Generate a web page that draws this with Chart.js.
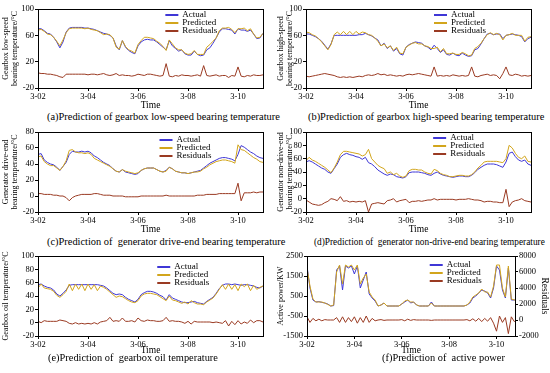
<!DOCTYPE html>
<html>
<head>
<meta charset="utf-8">
<script src="https://cdn.jsdelivr.net/npm/chart.js@4.4.1/dist/chart.umd.min.js"></script>
<style>
  body { margin: 0; background: #fff; }
  #wrap { position: relative; width: 550px; height: 373px; overflow: hidden; font-family: 'Liberation Serif', 'Times New Roman', serif; }
  canvas { position: absolute; }
  .cap { position: absolute; font-size: 10.4px; line-height: 12px; white-space: nowrap; color: #000; }
</style>
</head>
<body>
<div id="wrap">
  <canvas id="ca" width="275" height="110" style="left:0;top:0"></canvas>
  <canvas id="cb" width="275" height="110" style="left:275px;top:0"></canvas>
  <canvas id="cc" width="275" height="110" style="left:0;top:124px"></canvas>
  <canvas id="cd" width="275" height="110" style="left:275px;top:124px"></canvas>
  <canvas id="ce" width="275" height="107" style="left:0;top:248px"></canvas>
  <canvas id="cf" width="275" height="107" style="left:275px;top:248px"></canvas>
  <div class="cap" style="left:47px;top:111px">(a)Prediction of gearbox low-speed bearing temperature</div>
  <div class="cap" style="left:308px;top:111px">(b)Prediction of gearbox high-speed bearing temperature</div>
  <div class="cap" style="left:47px;top:236px">(c)Prediction of &nbsp;generator drive-end bearing temperature</div>
  <div class="cap" style="left:314px;top:236px;font-size:9.3px">(d)Prediction of &nbsp;generator non-drive-end bearing temperature</div>
  <div class="cap" style="left:48px;top:352px">(e)Prediction of &nbsp;gearbox oil temperature</div>
  <div class="cap" style="left:382px;top:352px">(f)Prediction of &nbsp;active power</div>
</div>
<script>
// time in days of March (3-02 ... 3-11), every 3 hours
const TIME = [
  2, 2.125, 2.25, 2.375, 2.5, 2.625, 2.75, 2.875,
  3, 3.125, 3.25, 3.375, 3.5, 3.625, 3.75, 3.875,
  4, 4.125, 4.25, 4.375, 4.5, 4.625, 4.75, 4.875,
  5, 5.125, 5.25, 5.375, 5.5, 5.625, 5.75, 5.875,
  6, 6.125, 6.25, 6.375, 6.5, 6.625, 6.75, 6.875,
  7, 7.125, 7.25, 7.375, 7.5, 7.625, 7.75, 7.875,
  8, 8.125, 8.25, 8.375, 8.5, 8.625, 8.75, 8.875,
  9, 9.125, 9.25, 9.375, 9.5, 9.625, 9.75, 9.875,
  10, 10.125, 10.25, 10.375, 10.5, 10.625, 10.75, 10.875,
  11
];
const X_TICKS = [2, 4, 6, 8, 10];

// (a) gearbox low-speed bearing temperature
const ACTUAL_A = [70, 70, 67, 63, 62, 57, 50, 41, 50, 65, 71, 72, 72, 72, 72, 71,
  71, 70, 69, 67, 65, 63, 62, 60, 56, 44, 38, 52, 42, 37, 34, 32,
  44, 50, 53, 54, 53, 53, 50, 46, 42, 38, 52, 44, 40, 36, 38, 32,
  30, 30, 36, 31, 29, 30, 38, 41, 48, 56, 65, 70, 70, 69, 68, 62,
  70, 68, 68, 66, 68, 62, 55, 56, 63];
const PRED_A = [68, 69, 66, 62, 61, 57, 51, 44, 53, 64, 70, 71, 71, 71, 71, 70,
  71, 69, 68, 67, 64, 61, 62, 61, 56, 42, 39, 52, 43, 38, 36, 33,
  46, 52, 57, 57, 56, 55, 51, 48, 43, 37, 53, 47, 41, 38, 38, 33,
  31, 32, 37, 31, 31, 31, 42, 46, 51, 56, 67, 71, 71, 72, 69, 64,
  70, 70, 71, 67, 70, 62, 56, 57, 63];
const RES_A = [3, 2, 2, 1, 1, 0, -1, -3, -4, 1, 1, 1, 1, 1, 1, 1,
  0, 1, 1, 0, 1, 2, 0, -1, 0, 2, -1, 0, -1, -1, -2, -1,
  1, 0, -1, 1, 1, 0, -1, -2, -1, 17, -2, -3, -1, -2, 0, -1,
  -1, -2, -1, 0, -2, 14, -1, -2, -1, 0, -2, -1, -1, -4, -1, -2,
  12, -2, -3, -1, -2, 0, -1, -1, 0];

// (b) gearbox high-speed bearing temperature
const ACTUAL_B = [62, 62, 60, 58, 55, 51, 45, 39, 47, 60, 60, 60, 60, 60, 60, 60,
  60, 61, 61, 63, 61, 59, 56, 53, 44, 48, 40, 44, 36, 40, 32, 30,
  42, 46, 48, 50, 49, 48, 44, 42, 38, 45, 40, 34, 38, 31, 30, 33,
  30, 29, 33, 30, 28, 29, 38, 40, 47, 55, 62, 63, 61, 62, 62, 55,
  60, 61, 62, 61, 60, 58, 50, 55, 57];
const PRED_B = [65, 64, 61, 59, 55, 50, 44, 38, 46, 61, 65, 61, 66, 61, 66, 61,
  66, 62, 65, 64, 61, 60, 56, 51, 44, 47, 41, 44, 37, 42, 33, 32,
  42, 45, 48, 49, 47, 47, 44, 43, 40, 40, 42, 35, 40, 32, 32, 33,
  31, 31, 34, 32, 29, 30, 40, 43, 48, 55, 61, 64, 61, 63, 61, 53,
  60, 61, 63, 60, 60, 60, 51, 57, 58];
const RES_B = [-2, -3, -2, -1, 0, 1, 2, 1, 0, -1, -3, -4, -3, -4, -3, -4,
  -3, -2, -3, -1, 0, -1, 0, 2, 0, 1, -1, 0, -1, -2, -1, -2,
  0, 1, 0, 1, 2, 1, 0, -1, -2, 12, -2, -1, -2, -1, -2, 0,
  -1, -2, -1, -2, -1, 12, -2, -3, -1, 0, 1, -1, 0, -1, -6, 2,
  12, 0, -1, 1, 0, -2, -1, -2, -1];

// (c) generator drive-end bearing temperature
const ACTUAL_C = [52, 53, 45, 42, 40, 39, 36, 32, 37, 42, 52, 56, 55, 55, 56, 55,
  56, 54, 50, 48, 45, 42, 40, 38, 34, 31, 30, 33, 30, 29, 28, 27,
  28, 32, 34, 35, 35, 35, 33, 31, 30, 32, 36, 34, 31, 30, 29, 29,
  28, 29, 30, 31, 32, 35, 38, 41, 43, 45, 47, 48, 48, 47, 46, 44,
  52, 63, 61, 58, 55, 53, 50, 48, 47];
const PRED_C = [49, 50, 43, 40, 38, 38, 35, 32, 37, 44, 57, 58, 55, 54, 54, 53,
  54, 52, 47, 45, 43, 41, 39, 37, 34, 31, 30, 33, 31, 30, 29, 28,
  29, 32, 34, 35, 35, 35, 33, 31, 30, 31, 36, 34, 31, 30, 29, 29,
  28, 29, 30, 30, 31, 34, 36, 39, 41, 43, 44, 45, 45, 44, 43, 41,
  64, 58, 57, 54, 51, 48, 46, 43, 42];
const RES_C = [3, 3, 2, 2, 2, 1, 1, 0, 0, -2, -6, -2, 0, 1, 2, 2,
  2, 2, 3, 3, 2, 1, 1, 1, 0, 0, 0, 0, -1, -1, -1, -1,
  -1, 0, 0, 0, 0, 0, 0, 0, 0, 1, 0, 0, 0, 0, 0, 0,
  0, 0, 0, 1, 1, 1, 2, 2, 2, 2, 3, 3, 3, 3, 3, 3,
  16, -6, 4, 4, 4, 5, 4, 5, 5];

// (d) generator non-drive-end bearing temperature
const ACTUAL_D = [55, 57, 55, 52, 49, 46, 44, 40, 38, 45, 52, 62, 66, 68, 66, 65,
  63, 62, 59, 62, 54, 52, 48, 43, 40, 37, 35, 37, 36, 33, 32, 31,
  33, 39, 40, 40, 40, 39, 38, 36, 35, 38, 40, 37, 35, 34, 33, 32,
  33, 34, 34, 33, 33, 35, 39, 44, 47, 50, 52, 52, 52, 51, 49, 47,
  55, 68, 70, 63, 58, 56, 58, 52, 50];
const PRED_D = [57, 62, 58, 56, 53, 50, 47, 43, 39, 46, 55, 66, 71, 71, 70, 69,
  68, 67, 64, 66, 74, 60, 55, 50, 47, 45, 38, 40, 36, 38, 34, 32,
  34, 42, 44, 44, 43, 43, 40, 38, 37, 44, 42, 38, 36, 35, 33, 33,
  34, 35, 35, 34, 34, 36, 40, 46, 50, 55, 56, 56, 56, 56, 55, 54,
  60, 80, 76, 68, 62, 60, 64, 56, 55];
const RES_D = [-2, -5, -8, -9, -10, -9, -6, -4, 0, -1, -3, 3, -4, -3, -5, -4,
  -5, -4, -5, -3, -20, -8, -7, -6, -7, -8, -3, -2, 0, -5, -3, -2,
  -1, -6, -4, -4, -3, -4, -3, -2, -2, 0, -2, -1, -1, -1, -1, -1,
  -2, -1, -1, -1, 0, -1, -2, -2, -3, -5, -4, -4, -5, -5, -6, -6,
  14, -12, -5, -3, -2, 0, -3, -4, -5];

// (e) gearbox oil temperature
const ACTUAL_E = [57, 58, 55, 53, 52, 49, 43, 40, 44, 49, 56, 57, 57, 57, 57, 57,
  57, 57, 57, 57, 56, 55, 52, 48, 44, 42, 43, 42, 38, 35, 33, 31,
  35, 42, 45, 47, 47, 46, 44, 41, 39, 34, 42, 37, 35, 33, 31, 30,
  30, 31, 32, 30, 29, 28, 32, 35, 38, 44, 51, 56, 58, 58, 57, 58,
  57, 56, 57, 57, 56, 55, 53, 52, 55];
const PRED_E = [52, 58, 52, 51, 50, 47, 41, 38, 42, 47, 58, 48, 58, 50, 58, 48,
  58, 50, 57, 48, 55, 53, 50, 46, 42, 38, 40, 39, 36, 33, 31, 30,
  33, 40, 43, 44, 44, 43, 42, 39, 36, 33, 40, 34, 33, 31, 29, 31,
  28, 33, 30, 28, 28, 27, 31, 34, 37, 43, 50, 57, 50, 58, 50, 57,
  48, 58, 54, 58, 48, 56, 50, 53, 55];
const RES_E = [2, 0, 3, 2, 2, 2, 2, 4, 3, 2, -1, -2, 0, -2, -1, -2,
  -1, -2, 0, -2, 1, 2, 3, 8, 2, 3, 2, 7, 2, 2, 3, 1,
  7, 3, 2, 4, 3, 3, 2, 2, 3, 8, 2, 3, 2, 2, 1, -1,
  2, -2, 2, 1, 1, 1, 1, 1, 0, 1, 0, -1, 3, -5, 2, -3,
  3, -2, 1, -1, 4, 0, 3, 3, 1];

// (f) active power (KW), residuals on the right axis
const ACTUAL_F = [2000, 900, 300, 200, 220, 180, 150, 100, 0, 20, 1800, 2000, 800, 2000, 1900, 2000,
  1600, 2000, 900, 1300, 1700, 600, 400, 250, 0, 50, 150, 0, 0, 0, 0, 0,
  100, 200, 300, 150, 200, 50, 0, 0, 0, 0, 200, 0, 0, 0, 0, 0,
  0, 0, 0, 0, 0, 0, 50, 150, 400, 500, 650, 800, 750, 650, 400, 900,
  2000, 1800, 800, 400, 1900, 300, 300, 300, 300];
const PRED_F = [1900, 1000, 350, 200, 200, 200, 150, 80, 0, 50, 1700, 2050, 1100, 2050, 1950, 2050,
  1800, 2050, 1100, 1400, 1600, 700, 450, 300, 0, 50, 150, 0, 0, 0, 0, 0,
  100, 250, 300, 200, 200, 50, 0, 0, 0, 0, 150, 0, 0, 0, 0, 0,
  0, 0, 0, 0, 0, 0, 50, 200, 450, 550, 650, 850, 700, 700, 450, 1000,
  2050, 2050, 900, 450, 2000, 350, 300, 350, 300];
const RES_F = [400, -300, 200, -100, 100, -100, 50, 0, 0, 0, 300, -300, 400, -300, 300, -200,
  400, -400, 300, -300, 500, -300, 200, -100, 0, 50, -50, 0, 0, 0, 0, 0,
  50, -100, 100, -50, 50, 0, 0, 0, 0, 0, -50, 0, 0, 0, 0, 0,
  0, 0, 0, 0, 0, 0, 50, -100, 150, -150, 200, -200, 200, -150, 300, -400,
  -1400, 500, -300, 300, -1700, 400, -200, 100, 0];

const COLORS = ['#3f37d6', '#d2a51c', '#9a3a22'];
const FONT = { family: "'Liberation Serif', 'Times New Roman', serif", size: 8.5 };

// box around the plot + legend inside it
const framePlugin = {
  id: 'frame',
  afterDraw(chart, args, opts) {
    const { ctx, chartArea: a } = chart;
    ctx.save();
    ctx.strokeStyle = '#000';
    ctx.lineWidth = 1;
    ctx.strokeRect(Math.round(a.left) + 0.5, Math.round(a.top) + 0.5,
      Math.round(a.right - a.left), Math.round(a.bottom - a.top));
    const lx = a.left + opts.lx * (a.right - a.left);
    let ly = a.top + opts.ly;
    ctx.font = "9px 'Liberation Serif'";
    ctx.textBaseline = 'middle';
    chart.data.datasets.forEach(ds => {
      ctx.strokeStyle = ds.borderColor;
      ctx.lineWidth = 2;
      ctx.beginPath();
      ctx.moveTo(lx, ly);
      ctx.lineTo(lx + 13, ly);
      ctx.stroke();
      ctx.fillStyle = '#000';
      ctx.fillText(ds.label, lx + 17, ly);
      ly += 8;
    });
    ctx.restore();
  }
};

function pts(arr) {
  return TIME.map((t, i) => ({ x: t, y: arr[i] }));
}

function makeChart(id, o) {
  const grid = { display: true, drawOnChartArea: false, color: '#000', tickLength: 3 };
  const titleFont = { ...FONT, size: 8, lineHeight: 1.1 };
  const scales = {
    x: {
      type: 'linear', min: 2, max: o.xMax || 11,
      afterBuildTicks: s => { s.ticks = X_TICKS.map(v => ({ value: v })); },
      afterFit: s => { s.height = o.xh; },
      grid: grid, border: { display: false },
      ticks: { font: FONT, color: '#000', padding: 1, maxRotation: 0, autoSkip: false,
        callback: v => '3-' + String(v).padStart(2, '0') },
      title: { display: true, text: 'Time', font: { ...FONT, size: 9.5, lineHeight: 1 }, color: '#000', padding: 0 }
    },
    y: {
      min: o.yMin, max: o.yMax,
      afterFit: s => { s.width = o.yw; },
      grid: grid, border: { display: false },
      ticks: { stepSize: o.yStep, font: FONT, color: '#000', padding: 1, callback: v => String(v) },
      title: { display: true, text: o.yTitle, font: titleFont, color: '#000', padding: { top: 2, bottom: 0 } }
    }
  };
  if (o.y2) {
    scales.y2 = {
      position: 'right', min: o.y2.min, max: o.y2.max,
      afterFit: s => { s.width = o.y2.w; },
      grid: grid, border: { display: false },
      ticks: { stepSize: o.y2.step, font: FONT, color: '#000', padding: 1, callback: v => String(v) },
      title: { display: true, text: o.y2.title, font: { ...FONT, size: 9.5 }, color: '#000', padding: { top: 0, bottom: 2 } }
    };
  }
  const line = { borderWidth: 1, pointRadius: 0, tension: 0, fill: false };
  new Chart(document.getElementById(id).getContext('2d'), {
    type: 'line',
    data: {
      datasets: [
        { ...line, label: 'Actual', data: pts(o.actual), borderColor: COLORS[0], order: 3 },
        { ...line, label: 'Predicted', data: pts(o.pred), borderColor: COLORS[1], order: 2 },
        { ...line, label: 'Residuals', data: pts(o.res), borderColor: COLORS[2], order: 1,
          yAxisID: o.y2 ? 'y2' : 'y' }
      ]
    },
    options: {
      responsive: false,
      animation: false,
      events: [],
      layout: { padding: { top: o.top, right: o.right, left: 0, bottom: 0 } },
      scales: scales,
      plugins: {
        legend: { display: false },
        tooltip: { enabled: false },
        frame: o.legend
      }
    },
    plugins: [framePlugin]
  });
}

makeChart('ca', { actual: ACTUAL_A, pred: PRED_A, res: RES_A, yMin: -20, yMax: 100, yStep: 20,
  yTitle: ['Gearbox low-speed', 'bearing temperature/°C'], yw: 38, top: 9, right: 12, xh: 22,
  legend: { lx: 0.566, ly: 6 } });
makeChart('cb', { actual: ACTUAL_B, pred: PRED_B, res: RES_B, yMin: -20, yMax: 100, yStep: 20,
  yTitle: ['Gearbox high-speed', 'bearing temperature/°C'], yw: 31, top: 9, right: 19, xh: 22,
  legend: { lx: 0.569, ly: 6 } });
makeChart('cc', { actual: ACTUAL_C, pred: PRED_C, res: RES_C, yMin: -20, yMax: 80, yStep: 20,
  yTitle: ['Generator drive-end', 'bearing temperature/°C'], yw: 38, top: 8, right: 12, xh: 22,
  legend: { lx: 0.54, ly: 8 } });
makeChart('cd', { actual: ACTUAL_D, pred: PRED_D, res: RES_D, yMin: -20, yMax: 100, yStep: 20,
  yTitle: ['Generator non-drive-end', 'bearing temperature/°C'], yw: 31, top: 8, right: 19, xh: 22,
  legend: { lx: 0.565, ly: 6 } });
makeChart('ce', { actual: ACTUAL_E, pred: PRED_E, res: RES_E, yMin: -20, yMax: 100, yStep: 20,
  yTitle: 'Gearbox oil temperature/°C', yw: 38, top: 8, right: 12, xh: 19,
  legend: { lx: 0.53, ly: 11 } });
makeChart('cf', { actual: ACTUAL_F, pred: PRED_F, res: RES_F, yMin: -1500, yMax: 2500, yStep: 500,
  yTitle: 'Active power/KW', yw: 32, top: 8, right: 0, xh: 19, xMax: 10.78,
  y2: { min: -2000, max: 8000, step: 2000, w: 35, title: 'Residuals' },
  legend: { lx: 0.59, ly: 9 } });
</script>
</body>
</html>
